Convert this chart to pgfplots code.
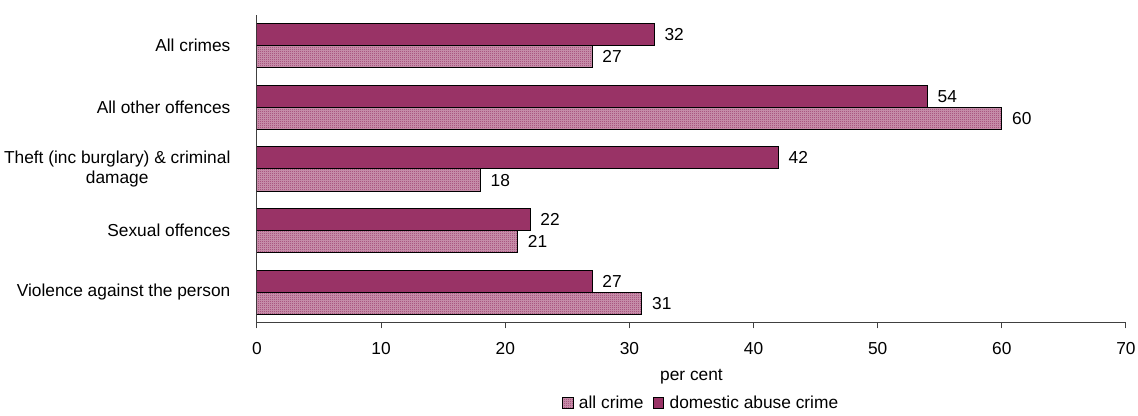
\documentclass[border=0pt]{standalone}
\usepackage{fontspec}
\setmainfont{Liberation Sans}
\usepackage{pgfplots}
\pgfplotsset{compat=1.18}
\usetikzlibrary{patterns}
\definecolor{barpurple}{HTML}{993366}
\pgfdeclarepatternformonly{finechecker}{\pgfpointorigin}{\pgfpoint{1.5pt}{1.5pt}}{\pgfpoint{1.5pt}{1.5pt}}{%
  \pgfpathrectangle{\pgfpointorigin}{\pgfpoint{0.75pt}{0.75pt}}%
  \pgfpathrectangle{\pgfpoint{0.75pt}{0.75pt}}{\pgfpoint{0.75pt}{0.75pt}}%
  \pgfusepath{fill}}
\begin{document}
\begin{tikzpicture}[font=\fontsize{13}{15}\selectfont]
\useasboundingbox (-192.75pt,-69.75pt) rectangle (660.75pt,242.25pt);
\begin{axis}[
  at={(0,0)}, anchor=south west,
  scale only axis, width=651.75pt, height=231pt,
  xbar, bar width=0.36,
  xmin=0, xmax=70, xtick={0,10,...,70},
  ymin=-0.5, ymax=4.5,
  ytick={0,1,2,3,4},
  yticklabels={Violence against the person, Sexual offences, {Theft (inc burglary) \& criminal\\damage}, All other offences, All crimes},
  minor ytick={-0.5,0.5,...,4.5},
  ytick style={draw=none},
  minor tick style={draw=black!75, line width=0.75pt},
  xtick style={draw=black!75, line width=0.75pt},
  tick align=outside,
  major tick length=4pt, minor tick length=4pt,
  axis x line*=bottom, axis y line*=left,
  x axis line style={-, draw=black!75, line width=0.75pt},
  y axis line style={-, draw=black!75, line width=0.75pt},
  /pgf/number format/assume math mode=true,
  xticklabel style={anchor=center, yshift=-15pt, inner sep=0pt},
  yticklabel style={anchor=east, align=center, inner sep=0pt, xshift=-15.75pt},
  every axis x label/.style={at={(axis description cs:0.5,0)}, yshift=-40.5pt, anchor=center},
  xlabel={per cent},
  nodes near coords,
  every node near coord/.append style={anchor=west, xshift=4pt, font=\fontsize{13}{15}\selectfont},
  legend style={at={(0.51,-0.26)}, anchor=center, draw=none, fill=none, legend columns=-1,
    /tikz/every odd column/.append style={column sep=4pt},
    /tikz/every even column/.append style={column sep=7pt}, inner sep=0pt,
    nodes={inner sep=0pt}},
  legend image code/.code={\draw[#1, line width=0.6pt] (0pt,-4pt) rectangle (8pt,4pt);},
]
\addplot[draw=black, line width=0.75pt, fill=barpurple!50!white, postaction={pattern=finechecker, pattern color=barpurple}, bar shift=-0.18]
  coordinates {(31,0) (21,1) (18,2) (60,3) (27,4)};
\addlegendentry{all crime}
\addplot[draw=black, line width=0.75pt, fill=barpurple, bar shift=0.18]
  coordinates {(27,0) (22,1) (42,2) (54,3) (32,4)};
\addlegendentry{domestic abuse crime}
\end{axis}
\end{tikzpicture}
\end{document}
